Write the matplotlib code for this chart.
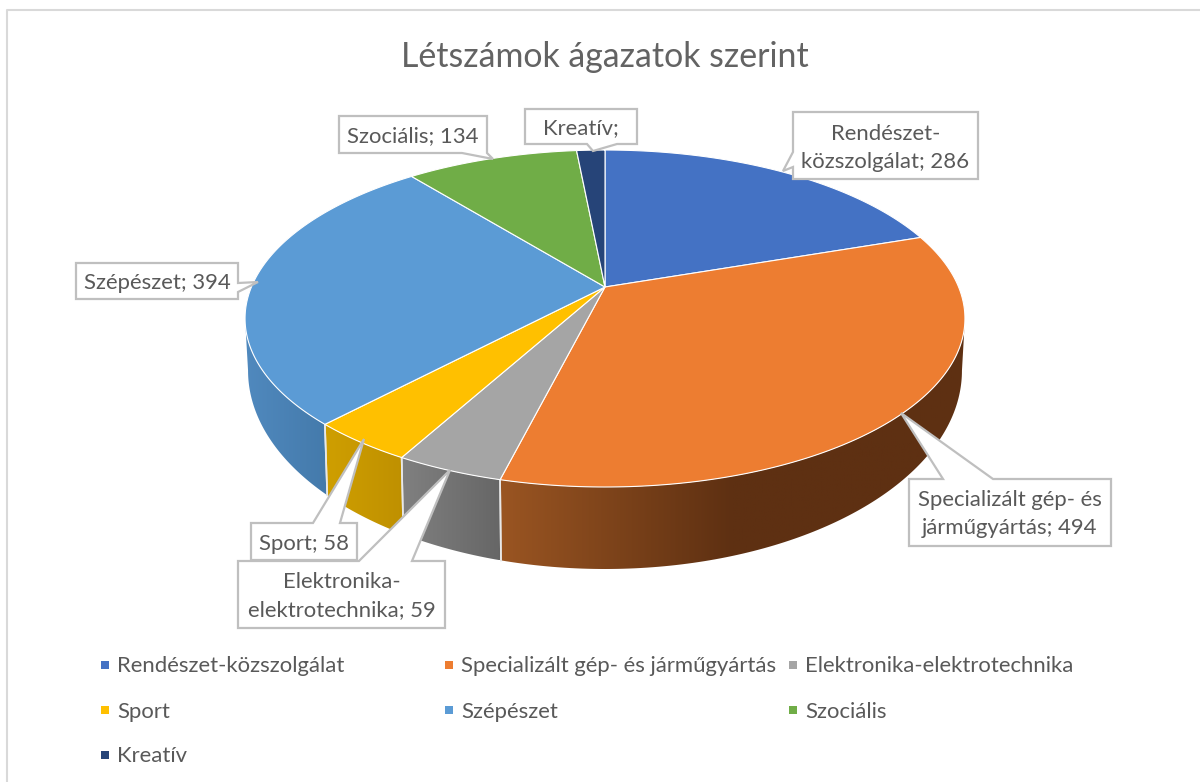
import numpy as np
import matplotlib
matplotlib.use("Agg")
import matplotlib.pyplot as plt
from matplotlib.patches import Polygon, Rectangle
from matplotlib.colors import LinearSegmentedColormap

plt.rcParams['font.family'] = ['Lato', 'DejaVu Sans']

names = ['Rendészet-közszolgálat', 'Specializált gép- és járműgyártás',
         'Elektronika-elektrotechnika', 'Sport', 'Szépészet', 'Szociális', 'Kreatív']
values = [286, 494, 59, 58, 394, 134, 22]
colors = ['#4472C4', '#ED7D31', '#A5A5A5', '#FFC000', '#5B9BD5', '#70AD47', '#264478']
side_left = {1: '#9A5522', 2: '#808080', 3: '#CF9F00', 4: '#5089BE'}
side_right = {1: '#5E3012', 2: '#666666', 3: '#BF9000', 4: '#447AAB'}
title = 'Létszámok ágazatok szerint'
TEXT = '#595959'
LINE = '#BFBFBF'

# pixel geometry of the tilted disc, perspective maps circle to ellipse
CX, CY = 605, 287
A, K = 162.6, 0.187
B = 353.6


def top_xy(theta):
    u, v = np.sin(theta), np.cos(theta)
    d = 1 + K * v
    return CX + B * u / d, CY - A * v / d


def bottom_xy(theta):
    x, y = top_xy(theta)
    return CX + (x - CX) * 357 / 360, 370 + (y - 318) * 199 / 169


fig = plt.figure(figsize=(12, 7.82), dpi=100)
ax = fig.add_axes([0, 0, 1, 1])

edges = np.cumsum([0] + values) / sum(values) * 2 * np.pi
vis0, vis1 = np.arccos(-K), 2 * np.pi - np.arccos(-K)

# side wall
for i in side_left:
    t0, t1 = max(edges[i], vis0), min(edges[i + 1], vis1)
    t = np.linspace(t0, t1, 120)
    xt, yt = top_xy(t)
    xb, yb = bottom_xy(t)
    pts = np.r_[np.c_[xt, yt], np.c_[xb, yb][::-1]]
    poly = Polygon(pts, closed=True, fc='none', ec='none', zorder=1)
    ax.add_patch(poly)
    x0, x1 = pts[:, 0].min(), pts[:, 0].max()
    if i == 1:
        stops = [(0, side_left[i]), (0.5, side_right[i]), (1, side_right[i])]
    else:
        stops = [(0, side_left[i]), (1, side_right[i])]
    cmap = LinearSegmentedColormap.from_list('side%d' % i, stops)
    im = ax.imshow(np.linspace(0, 1, 256)[None, :], cmap=cmap, aspect='auto', zorder=1,
                   extent=(x0, x1, pts[:, 1].max(), pts[:, 1].min()))
    im.set_clip_path(poly)
    if edges[i] > vis0:
        ax.plot([xt[0], xb[0]], [yt[0], yb[0]], color='#E8E8E8', lw=1.2, zorder=2)
    if edges[i + 1] < vis1:
        ax.plot([xt[-1], xb[-1]], [yt[-1], yb[-1]], color='#E8E8E8', lw=1.2, zorder=2)

# top face
for i, c in enumerate(colors):
    t = np.linspace(edges[i], edges[i + 1], 150)
    x, y = top_xy(t)
    pts = np.r_[[[CX, CY]], np.c_[x, y]]
    ax.add_patch(Polygon(pts, closed=True, fc=c, ec='white', lw=0.8, zorder=3))

# label boxes as callouts: outline points run around box and pointer
callouts = [
    ('Rendészet-\nközszolgálat; 286', (793, 112, 978, 179),
     [(793, 112), (978, 112), (978, 179), (793, 179), (793, 167), (783, 171), (793, 152)]),
    ('Specializált gép- és\njárműgyártás; 494', (909, 479, 1111, 546),
     [(909, 479), (943, 479), (901, 413), (993, 479), (1111, 479), (1111, 546), (909, 546)]),
    ('Elektronika-\nelektrotechnika; 59', (238, 561, 445, 628),
     [(238, 561), (359, 561), (450, 470), (412, 561), (445, 561), (445, 628), (238, 628)]),
    ('Sport; 58', (251, 523, 357, 560),
     [(251, 523), (313, 523), (364, 439), (340, 523), (357, 523), (357, 560), (251, 560)]),
    ('Szépészet; 394', (76, 263, 238, 299),
     [(76, 263), (238, 263), (238, 283), (258, 282), (238, 292), (238, 299), (76, 299)]),
    ('Szociális; 134', (339, 116, 487, 153),
     [(339, 116), (487, 116), (487, 153), (493, 159), (462, 153), (339, 153)]),
    ('Kreatív;', (525, 109, 637, 144),
     [(525, 109), (637, 109), (637, 144), (617, 144), (593, 151), (587, 144), (525, 144)]),
]
for text, box, outline in callouts:
    ax.add_patch(Polygon(outline, closed=True, fc='white', ec=LINE, lw=1.6, zorder=4))
    ax.text((box[0] + box[2]) / 2, (box[1] + box[3]) / 2 + 2, text, ha='center', va='center',
            fontsize=15.9, color=TEXT, linespacing=1.5, zorder=5)

ax.text(605, 57, title, ha='center', va='center', fontsize=24.4, color='#636363')

# legend, three columns
leg_x = [105, 449, 793]
leg_y = [665, 710, 755]
for i, (n, c) in enumerate(zip(names, colors)):
    lx, ly = leg_x[i % 3], leg_y[i // 3]
    ax.add_patch(Rectangle((lx - 4, ly - 4), 8, 8, fc=c, ec='none', zorder=3))
    ax.text(lx + 12, ly + 1.5, n, ha='left', va='center', fontsize=15.9, color=TEXT)

# chart frame, cut by the image edge
ax.plot([7, 7, 1200], [782, 10, 10], color='#D9D9D9', lw=1.5, zorder=1)

ax.set_xlim(0, 1200)
ax.set_ylim(782, 0)
ax.axis('off')
fig.savefig('out.png', dpi=100)
